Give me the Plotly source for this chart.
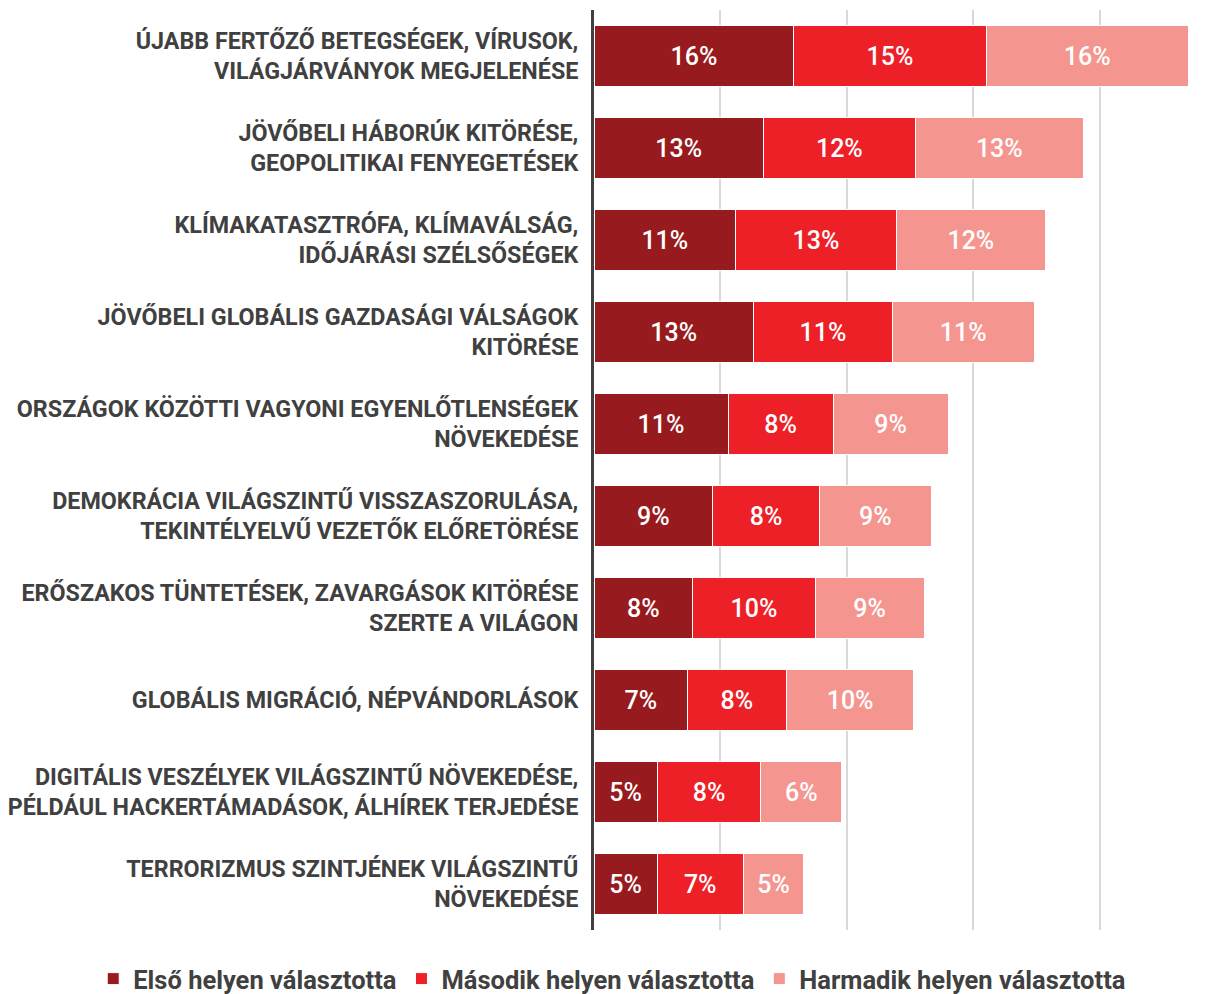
import plotly.graph_objects as go

categories = [
    "ÚJABB FERTŐZŐ BETEGSÉGEK, VÍRUSOK,<br>VILÁGJÁRVÁNYOK MEGJELENÉSE",
    "JÖVŐBELI HÁBORÚK KITÖRÉSE,<br>GEOPOLITIKAI FENYEGETÉSEK",
    "KLÍMAKATASZTRÓFA, KLÍMAVÁLSÁG,<br>IDŐJÁRÁSI SZÉLSŐSÉGEK",
    "JÖVŐBELI GLOBÁLIS GAZDASÁGI VÁLSÁGOK<br>KITÖRÉSE",
    "ORSZÁGOK KÖZÖTTI VAGYONI EGYENLŐTLENSÉGEK<br>NÖVEKEDÉSE",
    "DEMOKRÁCIA VILÁGSZINTŰ VISSZASZORULÁSA,<br>TEKINTÉLYELVŰ VEZETŐK ELŐRETÖRÉSE",
    "ERŐSZAKOS TÜNTETÉSEK, ZAVARGÁSOK KITÖRÉSE<br>SZERTE A VILÁGON",
    "GLOBÁLIS MIGRÁCIÓ, NÉPVÁNDORLÁSOK",
    "DIGITÁLIS VESZÉLYEK VILÁGSZINTŰ NÖVEKEDÉSE,<br>PÉLDÁUL HACKERTÁMADÁSOK, ÁLHÍREK TERJEDÉSE",
    "TERRORIZMUS SZINTJÉNEK VILÁGSZINTŰ<br>NÖVEKEDÉSE",
]

first = [15.8, 13.4, 11.2, 12.6, 10.6, 9.4, 7.8, 7.4, 5.0, 5.0]
second = [15.2, 12.0, 12.7, 11.0, 8.3, 8.4, 9.7, 7.8, 8.2, 6.8]
third = [16.0, 13.3, 11.8, 11.2, 9.1, 8.9, 8.6, 10.1, 6.4, 4.8]

series_names = ["Első helyen választotta", "Második helyen választotta", "Harmadik helyen választotta"]
colors = ["#971B1E", "#ED1F27", "#F4958F"]

FONT = "Roboto"
fig = go.Figure()
for name, vals, col in zip(series_names, [first, second, third], colors):
    fig.add_trace(go.Bar(
        y=categories, x=vals, name=name, orientation="h",
        marker=dict(color=col, line=dict(color="white", width=1)),
        texttemplate="%{x:.0f}%", textposition="inside",
        insidetextanchor="middle", textangle=0,
        textfont=dict(family=FONT, size=25, color="white", weight=500),
        hoverinfo="skip",
    ))

fig.update_layout(
    barmode="stack",
    bargap=0.33,
    width=1212, height=994,
    margin=dict(l=586, r=19, t=2, b=72, autoexpand=False),
    paper_bgcolor="white", plot_bgcolor="white",
    font=dict(family=FONT, color="#404040"),
    legend=dict(
        orientation="h", xref="paper", yref="paper",
        x=-0.825, xanchor="left", y=-0.0533, yanchor="middle",
        font=dict(family=FONT, size=25.5, color="#404040", weight="bold"),
        itemwidth=30, traceorder="normal",
    ),
    uniformtext=dict(mode=False),
)
fig.update_xaxes(
    range=[0, 48], dtick=10, showgrid=True, gridcolor="#D9D9D9", gridwidth=2,
    showticklabels=False, zeroline=False, showline=False, fixedrange=True,
)
fig.update_yaxes(
    autorange="reversed", showline=True, linecolor="#404040", linewidth=3,
    ticks="", ticklabelstandoff=8, automargin=False,
    tickfont=dict(family=FONT, size=23.3, color="#404040", weight="bold"),
    showgrid=False,
)

fig.write_html("out.html")
